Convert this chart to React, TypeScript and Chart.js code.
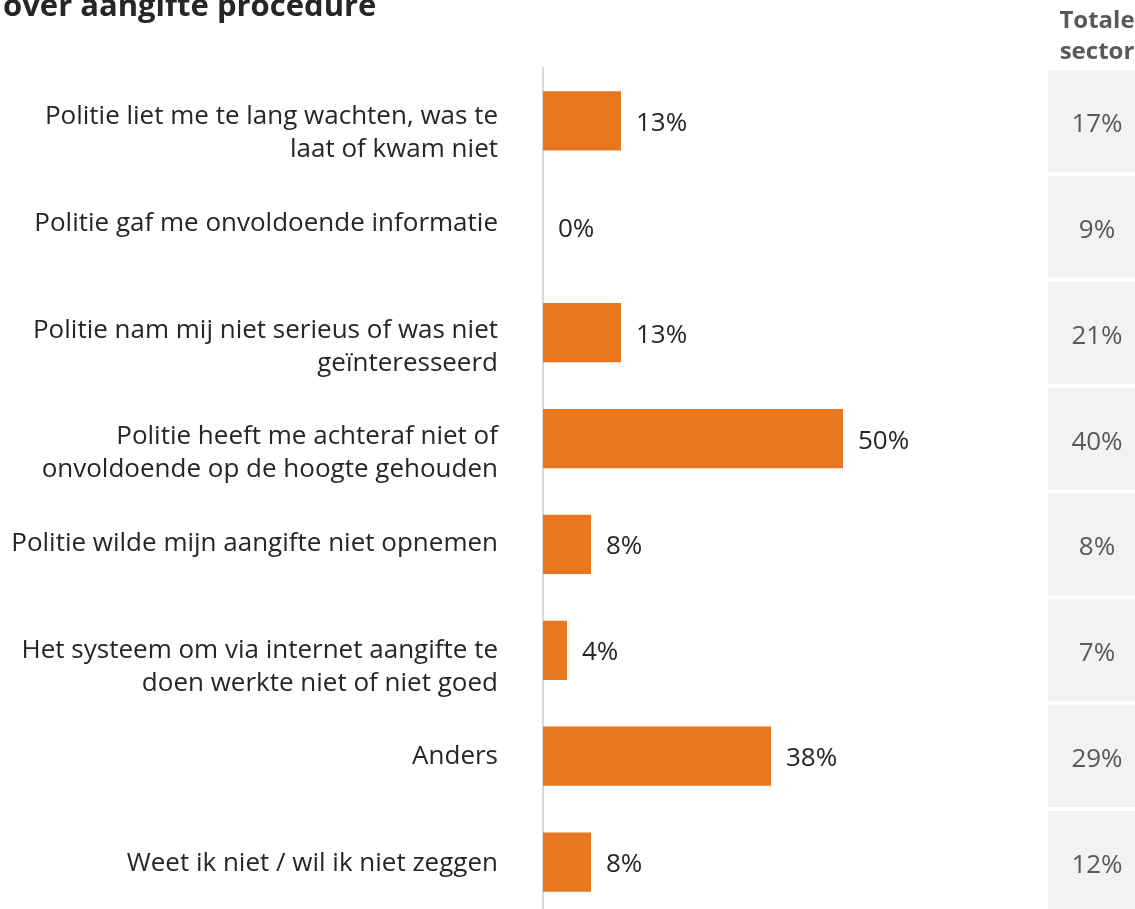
import React, { useEffect, useRef } from "react";
import { Chart, registerables } from "chart.js";

Chart.register(...registerables);

const titleText = "over aangifte procedure";
const sectorHeader = ["Totale", "sector"];
const categories: string[][] = [
  ["Politie liet me te lang wachten, was te", "laat of kwam niet"],
  ["Politie gaf me onvoldoende informatie"],
  ["Politie nam mij niet serieus of was niet", "geïnteresseerd"],
  ["Politie heeft me achteraf niet of", "onvoldoende op de hoogte gehouden"],
  ["Politie wilde mijn aangifte niet opnemen"],
  ["Het systeem om via internet aangifte te", "doen werkte niet of niet goed"],
  ["Anders"],
  ["Weet ik niet / wil ik niet zeggen"],
];
const values = [13, 0, 13, 50, 8, 4, 38, 8];
const sectorValues = [17, 9, 21, 40, 8, 7, 29, 12];

const FONT = "'Open Sans', 'DejaVu Sans', sans-serif";

const overlayPlugin = {
  id: "overlay",
  afterDatasetsDraw(chart: any) {
    const ctx = chart.ctx as CanvasRenderingContext2D;
    const x = chart.scales.x;
    const y = chart.scales.y;
    const area = chart.chartArea;
    const step = y.getPixelForValue(1) - y.getPixelForValue(0);
    ctx.save();
    ctx.textBaseline = "alphabetic";
    // title
    ctx.font = `bold 31px ${FONT}`;
    ctx.fillStyle = "#262626";
    ctx.textAlign = "left";
    ctx.fillText(titleText, 3, 16);
    // sector header
    ctx.font = `bold 24px ${FONT}`;
    ctx.fillStyle = "#595959";
    ctx.textAlign = "center";
    ctx.fillText(sectorHeader[0], 1097, 28);
    ctx.fillText(sectorHeader[1], 1097, 59);

    categories.forEach((lines, i) => {
      const c = y.getPixelForValue(i);
      // category labels
      ctx.font = `26px ${FONT}`;
      ctx.fillStyle = "#262626";
      ctx.textAlign = "right";
      const base = c + 3.5 + 0.75 * i;
      ctx.fillText(lines[0], area.left - 45, base);
      if (lines.length > 1) {
        ctx.fillText(lines[1], area.left - 45, base + 33);
      }
      // value labels
      const end = x.getPixelForValue(values[i]);
      ctx.textAlign = "left";
      ctx.fillText(values[i] + "%", end + 15, c + 10);
      // sector boxes
      const h = step - 4;
      ctx.fillStyle = "#f2f2f2";
      ctx.fillRect(1048, c - h / 2, 100, h);
      ctx.fillStyle = "#595959";
      ctx.textAlign = "center";
      ctx.fillText(sectorValues[i] + "%", 1097, c + 11);
    });
    ctx.restore();
  },
};

export default function App() {
  const ref = useRef<HTMLCanvasElement | null>(null);
  useEffect(() => {
    if (!ref.current) return;
    const chart = new Chart(ref.current, {
      type: "bar",
      data: {
        labels: categories.map((l) => l.join(" ")),
        datasets: [
          {
            data: values,
            backgroundColor: "#e87722",
            categoryPercentage: 1,
            barPercentage: 0.56,
          },
        ],
      },
      options: {
        indexAxis: "y",
        responsive: false,
        animation: false,
        devicePixelRatio: 1,
        layout: { padding: { top: 68, right: 112, left: 0, bottom: 0 } },
        plugins: { legend: { display: false }, tooltip: { enabled: false } },
        scales: {
          x: { min: 0, max: 80, display: false },
          y: {
            ticks: { display: false },
            grid: { display: false },
            border: { display: true, color: "#d9d9d9", width: 2 },
            afterFit: (s: any) => {
              s.width = 543;
            },
          },
        },
      },
      plugins: [overlayPlugin],
    });
    return () => chart.destroy();
  }, []);
  return (
    <canvas
      ref={ref}
      width={1135}
      height={915}
      style={{ position: "fixed", top: 0, left: 0, width: 1135, height: 915 }}
    />
  );
}
